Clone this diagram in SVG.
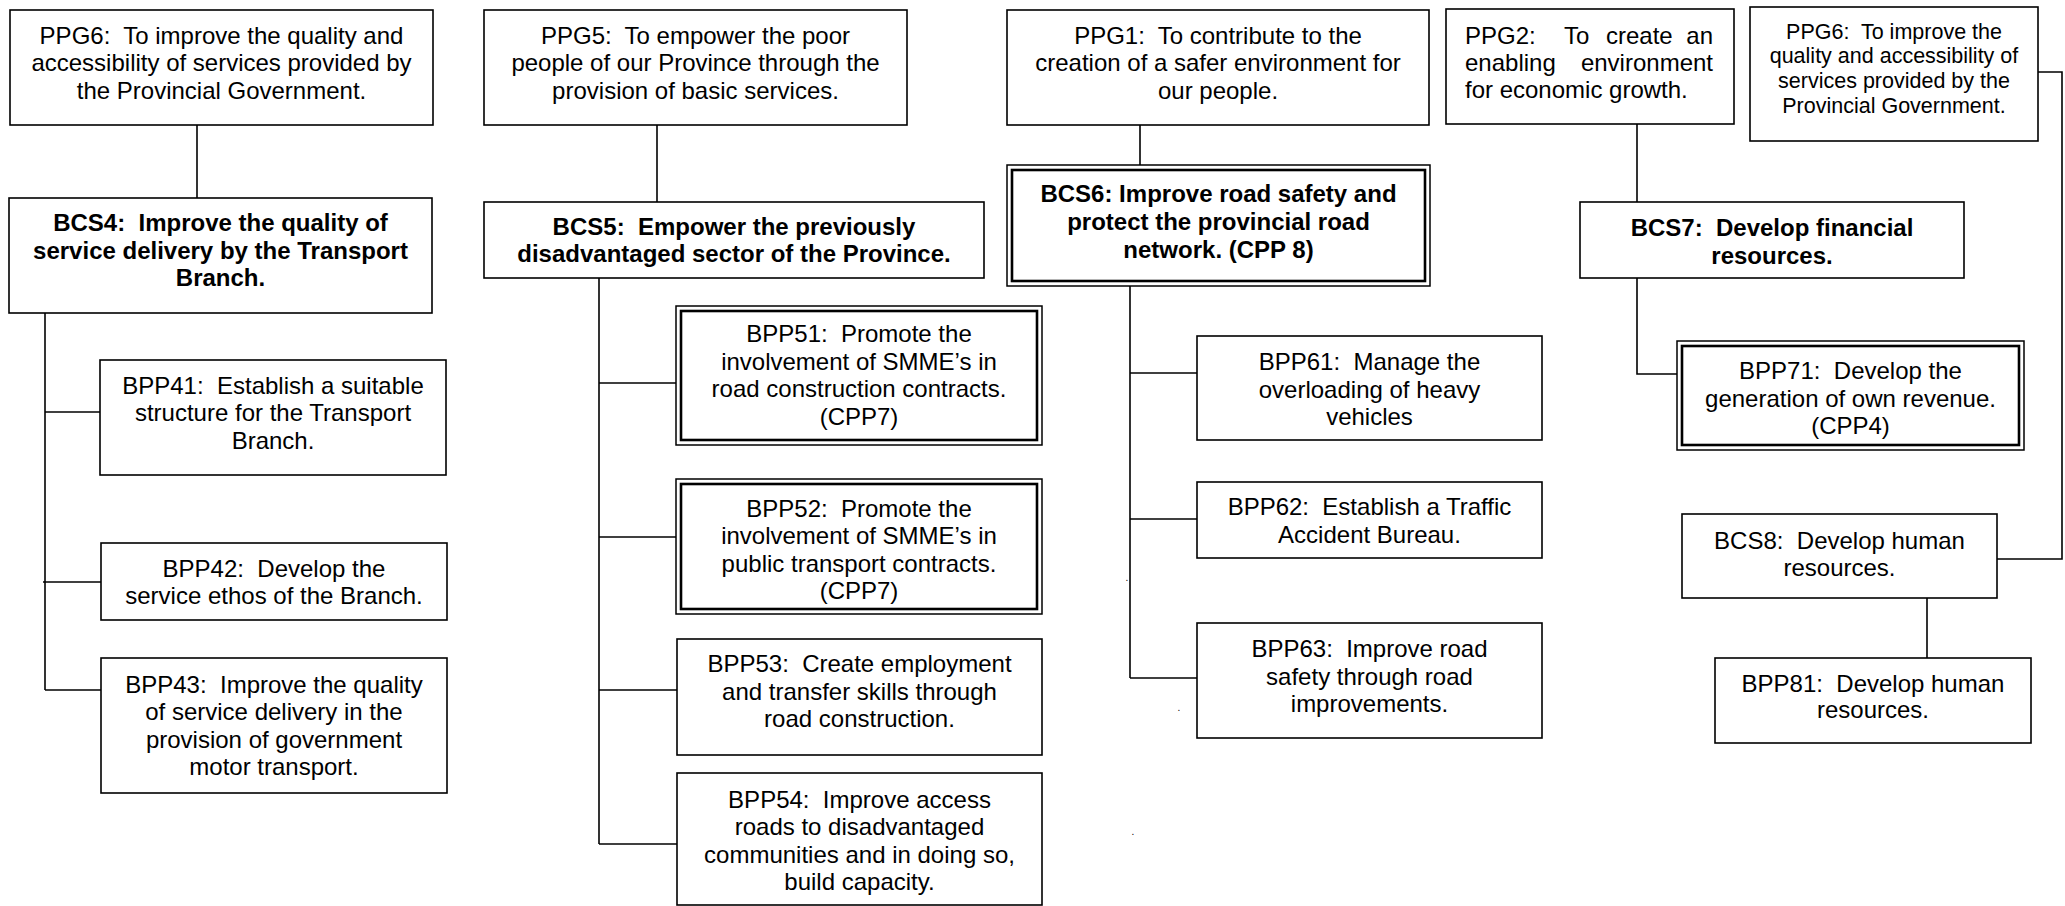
<svg xmlns="http://www.w3.org/2000/svg" width="2065" height="906" viewBox="0 0 2065 906">
<style>
.bx{fill:#fff;stroke:#000;stroke-width:1.6}
.o{fill:#fff;stroke:#000;stroke-width:1.5}
.i{fill:none;stroke:#000;stroke-width:2.6}
.ln{fill:none;stroke:#000;stroke-width:1.6}
text{font-family:"Liberation Sans",Arial,sans-serif;font-size:24px;fill:#000;text-anchor:middle;white-space:pre}
.b{font-weight:bold}
.s{font-size:21.5px}
.l{text-anchor:start}
.e{text-anchor:end}
.d{font-size:10px}
</style>
<rect width="2065" height="906" fill="#fff"/>
<g id="connectors">
<line class="ln" x1="197" y1="125" x2="197" y2="198"/>
<line class="ln" x1="45" y1="313" x2="45" y2="690"/>
<line class="ln" x1="45" y1="412" x2="100" y2="412"/>
<line class="ln" x1="43" y1="582" x2="101" y2="582"/>
<line class="ln" x1="45" y1="690" x2="101" y2="690"/>
<line class="ln" x1="657" y1="125" x2="657" y2="202"/>
<line class="ln" x1="599" y1="278" x2="599" y2="844"/>
<line class="ln" x1="599" y1="383" x2="676" y2="383"/>
<line class="ln" x1="599" y1="537" x2="676" y2="537"/>
<line class="ln" x1="599" y1="690" x2="677" y2="690"/>
<line class="ln" x1="599" y1="844" x2="677" y2="844"/>
<line class="ln" x1="1140" y1="125" x2="1140" y2="165"/>
<line class="ln" x1="1130" y1="286" x2="1130" y2="678"/>
<line class="ln" x1="1130" y1="373" x2="1197" y2="373"/>
<line class="ln" x1="1130" y1="519" x2="1197" y2="519"/>
<line class="ln" x1="1130" y1="678" x2="1197" y2="678"/>
<line class="ln" x1="1637" y1="124" x2="1637" y2="202"/>
<polyline class="ln" points="1637,275 1637,374 1677,374"/>
<polyline class="ln" points="2038,72 2062,72 2062,559 1997,559"/>
<line class="ln" x1="1927" y1="598" x2="1927" y2="658"/>
</g>
<g id="ppg6a"><rect class="bx" x="10" y="10" width="423" height="115"/>
<text x="221.5" y="43.5">PPG6:  To improve the quality and</text>
<text x="221.5" y="71">accessibility of services provided by</text>
<text x="221.5" y="98.5">the Provincial Government.</text></g>
<g id="bcs4"><rect class="bx" x="9" y="198" width="423" height="115"/>
<text class="b" x="220.5" y="230.5">BCS4:  Improve the quality of</text>
<text class="b" x="220.5" y="258.5">service delivery by the Transport</text>
<text class="b" x="220.5" y="286">Branch.</text></g>
<g id="bpp41"><rect class="bx" x="100" y="360" width="346" height="115"/>
<text x="273" y="393.5">BPP41:  Establish a suitable</text>
<text x="273" y="421">structure for the Transport</text>
<text x="273" y="448.5">Branch.</text></g>
<g id="bpp42"><rect class="bx" x="101" y="543" width="346" height="77"/>
<text x="274" y="576.5">BPP42:  Develop the</text>
<text x="274" y="604">service ethos of the Branch.</text></g>
<g id="bpp43"><rect class="bx" x="101" y="658" width="346" height="135"/>
<text x="274" y="692.5">BPP43:  Improve the quality</text>
<text x="274" y="720">of service delivery in the</text>
<text x="274" y="747.5">provision of government</text>
<text x="274" y="775">motor transport.</text></g>
<g id="ppg5"><rect class="bx" x="484" y="10" width="423" height="115"/>
<text x="695.5" y="43.5">PPG5:  To empower the poor</text>
<text x="695.5" y="71">people of our Province through the</text>
<text x="695.5" y="98.5">provision of basic services.</text></g>
<g id="bcs5"><rect class="bx" x="484" y="202" width="500" height="76"/>
<text class="b" x="734" y="234.5">BCS5:  Empower the previously</text>
<text class="b" x="734" y="262">disadvantaged sector of the Province.</text></g>
<g id="bpp51"><rect class="o" x="676" y="306" width="366" height="139"/><rect class="i" x="681" y="311" width="356" height="129"/>
<text x="859" y="342">BPP51:  Promote the</text>
<text x="859" y="369.5">involvement of SMME’s in</text>
<text x="859" y="397">road construction contracts.</text>
<text x="859" y="424.5">(CPP7)</text></g>
<g id="bpp52"><rect class="o" x="676" y="479" width="366" height="135"/><rect class="i" x="681" y="484" width="356" height="125"/>
<text x="859" y="516.5">BPP52:  Promote the</text>
<text x="859" y="544">involvement of SMME’s in</text>
<text x="859" y="571.5">public transport contracts.</text>
<text x="859" y="599">(CPP7)</text></g>
<g id="bpp53"><rect class="bx" x="677" y="639" width="365" height="116"/>
<text x="859.5" y="672">BPP53:  Create employment</text>
<text x="859.5" y="699.5">and transfer skills through</text>
<text x="859.5" y="727">road construction.</text></g>
<g id="bpp54"><rect class="bx" x="677" y="773" width="365" height="132"/>
<text x="859.5" y="808">BPP54:  Improve access</text>
<text x="859.5" y="835">roads to disadvantaged</text>
<text x="859.5" y="862.5">communities and in doing so,</text>
<text x="859.5" y="890">build capacity.</text></g>
<g id="ppg1"><rect class="bx" x="1007" y="10" width="422" height="115"/>
<text x="1218" y="43.5">PPG1:  To contribute to the</text>
<text x="1218" y="71">creation of a safer environment for</text>
<text x="1218" y="98.5">our people.</text></g>
<g id="bcs6"><rect class="o" x="1007" y="165" width="423" height="121"/><rect class="i" x="1012" y="170" width="413" height="111"/>
<text class="b" x="1218.5" y="201.5">BCS6: Improve road safety and</text>
<text class="b" x="1218.5" y="229.5">protect the provincial road</text>
<text class="b" x="1218.5" y="257.5">network. (CPP 8)</text></g>
<g id="bpp61"><rect class="bx" x="1197" y="336" width="345" height="104"/>
<text x="1369.5" y="370">BPP61:  Manage the</text>
<text x="1369.5" y="398">overloading of heavy</text>
<text x="1369.5" y="424.5">vehicles</text></g>
<g id="bpp62"><rect class="bx" x="1197" y="482" width="345" height="76"/>
<text x="1369.5" y="515">BPP62:  Establish a Traffic</text>
<text x="1369.5" y="542.5">Accident Bureau.</text></g>
<g id="bpp63"><rect class="bx" x="1197" y="623" width="345" height="115"/>
<text x="1369.5" y="657">BPP63:  Improve road</text>
<text x="1369.5" y="684.5">safety through road</text>
<text x="1369.5" y="711.5">improvements.</text></g>
<g id="ppg2"><rect class="bx" x="1446" y="9" width="288" height="115"/>
<text class="l" x="1465" y="43.5">PPG2:</text><text class="l" x="1564" y="43.5">To</text><text class="l" x="1606" y="43.5">create</text><text class="e" x="1713" y="43.5">an</text>
<text class="l" x="1465" y="71">enabling</text><text class="e" x="1713" y="71">environment</text>
<text class="l" x="1465" y="97.5">for economic growth.</text></g>
<g id="ppg6b"><rect class="bx" x="1750" y="7" width="288" height="134"/>
<text class="s" x="1894" y="38.7">PPG6:  To improve the</text>
<text class="s" x="1894" y="62.7">quality and accessibility of</text>
<text class="s" x="1894" y="87.7">services provided by the</text>
<text class="s" x="1894" y="112.7">Provincial Government.</text></g>
<g id="bcs7"><rect class="bx" x="1580" y="202" width="384" height="76"/>
<text class="b" x="1772" y="235.6">BCS7:  Develop financial</text>
<text class="b" x="1772" y="263.6">resources.</text></g>
<g id="bpp71"><rect class="o" x="1677" y="341" width="347" height="109"/><rect class="i" x="1682" y="346" width="337" height="99"/>
<text x="1850.5" y="378.6">BPP71:  Develop the</text>
<text x="1850.5" y="406.6">generation of own revenue.</text>
<text x="1850.5" y="433.6">(CPP4)</text></g>
<g id="bcs8"><rect class="bx" x="1682" y="514" width="315" height="84"/>
<text x="1839.5" y="548.6">BCS8:  Develop human</text>
<text x="1839.5" y="575.6">resources.</text></g>
<g id="bpp81"><rect class="bx" x="1715" y="658" width="316" height="85"/>
<text x="1873" y="691.6">BPP81:  Develop human</text>
<text x="1873" y="717.6">resources.</text></g>
<g id="dots">
<text class="d" x="1127" y="581">.</text>
<text class="d" x="1179" y="711">.</text>
<text class="d" x="1133" y="835">.</text>
</g>
</svg>
